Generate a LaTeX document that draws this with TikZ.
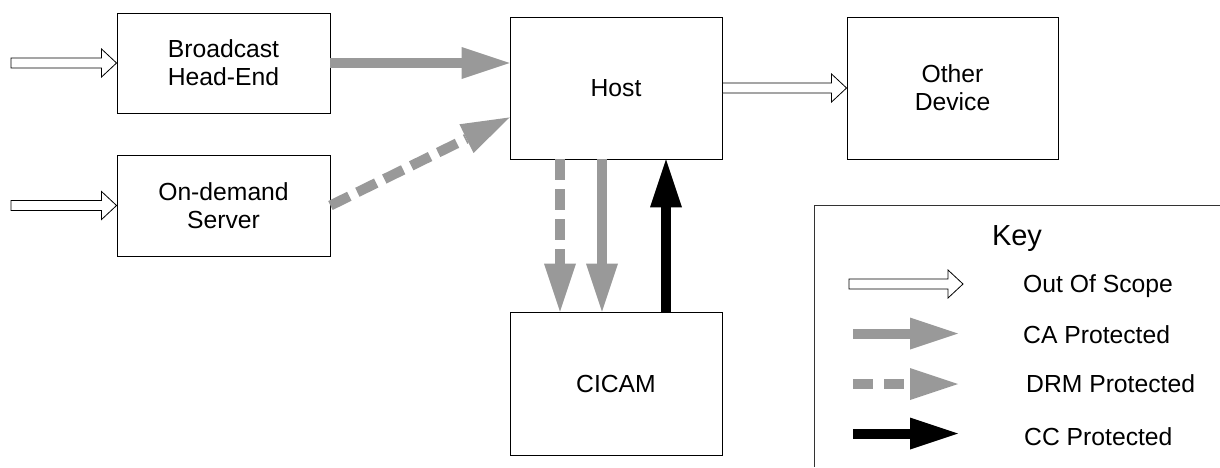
\documentclass[tikz,border=0pt]{standalone}
\usepackage{fontspec}
\setmainfont{Liberation Sans}
\usetikzlibrary{arrows.meta,calc}

\definecolor{flowgray}{RGB}{153,153,153}
\newcommand\diagfont{\fontsize{24.7}{28}\selectfont}
\newcommand\keytitlefont{\fontsize{29}{33}\selectfont}

% open (outlined) block arrow between two points on a horizontal line
\newcommand\hollowarrow[2]{%
  \draw[hollow] ($(#1)+(0,-5)$) -- ($(#2)+(-15,-5)$) -- ($(#2)+(-15,-14)$)
    -- (#2) -- ($(#2)+(-15,14)$) -- ($(#2)+(-15,5)$) -- ($(#1)+(0,5)$) -- cycle;}

\tikzset{
  block/.style={draw=black, line width=0.9pt, inner sep=0pt, align=center,
                font=\diagfont},
  caflow/.style={draw=flowgray, line width=10pt,
                 -{Triangle[length=48pt,width=32pt,line width=0pt]}},
  drmflow/.style={caflow, dash pattern=on 21pt off 9pt},
  ccflow/.style={caflow, draw=black},
  hollow/.style={draw=black, line width=0.8pt, fill=white, line join=miter},
  keylabel/.style={anchor=base west, inner sep=0pt, font=\diagfont},
  keyframe/.style={draw=black!80, line width=1pt},
}

\begin{document}
\begin{tikzpicture}[x=1pt, y=-1pt]
  \useasboundingbox (0,0) rectangle (1220,467);
  \fill[white] (0,0) rectangle (1220,467);

  % system blocks
  \node[block, minimum width=213pt, minimum height=100pt] (bhe)   at (223.5,63)    {Broadcast\\Head-End};
  \node[block, minimum width=213pt, minimum height=101pt] (ods)   at (223.5,205.5) {On-demand\\Server};
  \node[block, minimum width=212pt, minimum height=142pt] (host)  at (616,88)      {Host};
  \node[block, minimum width=211pt, minimum height=142pt] (other) at (952.5,88)    {Other\\Device};
  \node[block, minimum width=212pt, minimum height=143pt] (cicam) at (616,383.5)   {CICAM};

  % inputs from outside the system
  \coordinate (in1) at (11,63);
  \coordinate (in2) at (11,205.5);
  \hollowarrow{in1}{bhe.west}
  \hollowarrow{in2}{ods.west}
  \hollowarrow{host.east}{other.west}

  % protected content flows
  \draw[caflow]  (bhe.east) -- (host.west |- bhe.east);
  \draw[drmflow] (ods.east) -- ($(host.south west)+(0,-42)$);
  \draw[drmflow] ($(host.south)+(-56,0)$) -- ($(cicam.north)+(-56,0)$);
  \draw[caflow]  ($(host.south)+(-14,0)$) -- ($(cicam.north)+(-14,0)$);
  \draw[ccflow]  ($(cicam.north)+(50,0)$) -- ($(host.south)+(50,0)$);

  % key
  \draw[keyframe] (1220,205) -- (814,205) -- (814,467);
  \node[anchor=base, inner sep=0pt, font=\keytitlefont] (keytitle) at (1017,245) {Key};

  \coordinate (k1s) at (849,284);   \coordinate (k1e) at (963,284);
  \coordinate (k2s) at (853,333.5); \coordinate (k2e) at (958,333.5);
  \coordinate (k3s) at (853,384);   \coordinate (k3e) at (958,384);
  \coordinate (k4s) at (853,433.5); \coordinate (k4e) at (958,433.5);

  \hollowarrow{k1s}{k1e}
  \draw[caflow] (k2s) -- (k2e);
  \draw[caflow, dash pattern=on 20pt off 11pt] (k3s) -- (k3e);
  \draw[ccflow] (k4s) -- (k4e);

  \node[keylabel] (kl1) at (1023,292) {Out Of Scope};
  \node[keylabel] (kl2) at (1023,343) {CA Protected};
  \node[keylabel] (kl3) at (1026,392) {DRM Protected};
  \node[keylabel] (kl4) at (1024,445) {CC Protected};
\end{tikzpicture}
\end{document}
